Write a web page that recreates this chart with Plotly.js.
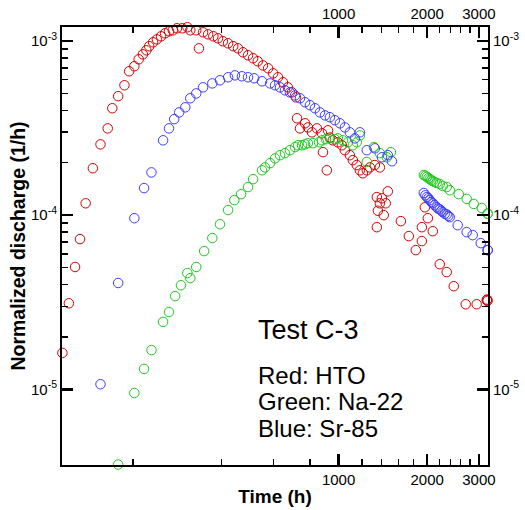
<!DOCTYPE html>
<html>
<head>
<meta charset="utf-8">
<script src="https://cdn.plot.ly/plotly-3.0.1.min.js"></script>
<style>html,body{margin:0;padding:0;background:#fff;}#chart{width:525px;height:510px;}</style>
</head>
<body>
<div id="chart"></div>
<script>
// ---- Data (time in hours, normalized discharge in 1/h) ----
const redTime = [115,121,127,132,138,146,155,164,170,178,187,194,202,209,216,222,227,234,241,249,257,265,273,282,294,306,313,328,335,346,360,375,389,404,421,438,455,473,492,512,531,553,576,599,622,647,672,694,716,
  722,739,769,786,812,844,878,885,912,920,934,955,994,1026,1050,1092,1118,1153,1181,1209,1247,1277,1328,1381,
  1349,1403,1470,1446,1381,1360,1424,1349,1628,1733,1830,1919,1965,2011,1919,2091,2208,2332,2464,2705,2948,3190,3200,3210];
const redValue = [1.62e-5,3.12e-5,5.04e-5,7.29e-5,1.17e-4,1.86e-4,2.55e-4,3.15e-4,4.11e-4,4.82e-4,5.57e-4,6.70e-4,7.16e-4,7.85e-4,8.38e-4,8.84e-4,9.33e-4,9.83e-4,1.022e-3,1.064e-3,1.107e-3,1.137e-3,1.152e-3,1.183e-3,1.183e-3,1.199e-3,1.152e-3,1.152e-3,9.07e-4,1.122e-3,1.092e-3,1.064e-3,1.036e-3,9.96e-4,9.70e-4,9.33e-4,9.07e-4,8.61e-4,8.28e-4,7.96e-4,7.65e-4,7.24e-4,6.97e-4,6.52e-4,6.19e-4,5.79e-4,5.42e-4,5.07e-4,4.75e-4,
  3.60e-4,3.15e-4,3.37e-4,3.19e-4,2.99e-4,3.15e-4,2.95e-4,2.30e-4,1.81e-4,3.07e-4,2.79e-4,2.69e-4,2.62e-4,2.52e-4,2.36e-4,2.21e-4,2.07e-4,1.94e-4,1.81e-4,1.74e-4,1.81e-4,1.88e-4,1.94e-4,1.88e-4,
  1.27e-4,1.25e-4,1.37e-4,1.17e-4,1.17e-4,1.06e-4,1.00e-4,8.53e-5,9.24e-5,7.58e-5,6.30e-5,8.53e-5,1.11e-4,9.61e-5,7.10e-5,8.09e-5,5.23e-5,4.71e-5,3.91e-5,3.08e-5,3.08e-5,3.25e-5,3.28e-5,3.22e-5];

const greenTime = [178,202,218,231,253,265,278,291,306,313,328,349,372,395,421,442,466,492,512,549,562,585,608,632,657,683,711,728,751,769,786,818,858,878,905,934,971,994,1034,1075,1118,1153,1181,1247,1318,1381,1459,1506,
  1949,1972,1996,2020,2042,2066,2091,2120,2156,2208,2260,2332,2388,2562,2726,2881,3067,3213,3213];
const greenValue = [3.70e-6,9.53e-6,1.31e-5,1.68e-5,2.44e-5,2.78e-5,3.43e-5,3.96e-5,4.65e-5,4.35e-5,5.04e-5,6.22e-5,7.39e-5,8.87e-5,1.07e-4,1.22e-4,1.32e-4,1.45e-4,1.61e-4,1.81e-4,1.88e-4,1.99e-4,2.12e-4,2.21e-4,2.27e-4,2.36e-4,2.46e-4,2.52e-4,2.52e-4,2.55e-4,2.59e-4,2.59e-4,2.62e-4,2.69e-4,2.73e-4,2.76e-4,2.73e-4,2.76e-4,2.69e-4,2.62e-4,2.52e-4,2.62e-4,2.87e-4,2.02e-4,2.46e-4,2.27e-4,2.15e-4,2.30e-4,
  1.70e-4,1.68e-4,1.66e-4,1.63e-4,1.61e-4,1.59e-4,1.57e-4,1.55e-4,1.53e-4,1.51e-4,1.47e-4,1.45e-4,1.39e-4,1.32e-4,1.24e-4,1.16e-4,1.10e-4,1.02e-4,1.02e-4];

const blueTime = [155,178,202,218,231,253,265,276,287,301,313,328,346,372,395,421,444,469,492,516,549,585,608,632,657,683,711,739,769,799,831,864,899,934,971,1010,1050,1092,1136,1181,1247,1328,1403,1470,1518,
  1949,1972,1996,2020,2042,2066,2091,2120,2156,2180,2208,2235,2260,2295,2332,2360,2388,2541,2726,2858,3043,3213,3213];
const blueValue = [1.07e-5,4.08e-5,9.61e-5,1.43e-4,1.76e-4,2.69e-4,3.15e-4,3.56e-4,3.89e-4,4.16e-4,4.69e-4,5.00e-4,5.42e-4,5.71e-4,5.95e-4,6.19e-4,6.35e-4,6.27e-4,6.19e-4,6.11e-4,5.87e-4,5.71e-4,5.57e-4,5.42e-4,5.21e-4,5.07e-4,4.87e-4,4.69e-4,4.45e-4,4.28e-4,4.11e-4,3.89e-4,3.74e-4,3.65e-4,3.51e-4,3.37e-4,3.19e-4,2.99e-4,2.76e-4,2.99e-4,2.36e-4,2.42e-4,2.15e-4,2.21e-4,2.04e-4,
  1.34e-4,1.30e-4,1.27e-4,1.25e-4,1.22e-4,1.19e-4,1.17e-4,1.14e-4,1.11e-4,1.09e-4,1.08e-4,1.06e-4,1.04e-4,1.02e-4,1.01e-4,9.9e-5,9.74e-5,8.76e-5,7.99e-5,7.68e-5,6.91e-5,6.30e-5,6.30e-5];

// ---- Ticks ----
const xTickVals = [1000, 2000, 3000];
const xTickText = ['1000', '2000', '3000'];
const xMinorVals = [200, 400, 600, 800, 1200, 1400, 1600, 1800, 2200, 2400, 2600, 2800];
const yTickVals = [1e-5, 1e-4, 1e-3];
const yTickText = ['10<sup>-5</sup>', '10<sup>-4</sup>', '10<sup>-3</sup>'];
const yMinorVals = [2e-5,3e-5,4e-5,5e-5,6e-5,7e-5,8e-5,9e-5,2e-4,3e-4,4e-4,5e-4,6e-4,7e-4,8e-4,9e-4];

const chartTitle = 'Test C-3';
const legendLines = ['Red: HTO', 'Green: Na-22', 'Blue: Sr-85'];
const xTitle = 'Time (h)';
const yTitle = 'Normalized discharge (1/h)';

// ---- Styles ----
const FONT = 'Liberation Sans, Arial, Helvetica, sans-serif';
const RED = '#d40000', GREEN = '#1ec81e', BLUE = '#3c3cff';
const xRange = [2.0594, 3.508];
const yRange = [-5.4343, -2.9197];

function mk(x, y, color, xa, ya) {
  return {
    x: x, y: y, type: 'scatter', mode: 'markers', xaxis: xa, yaxis: ya,
    cliponaxis: false, hoverinfo: 'skip',
    marker: {symbol: 'circle-open', size: 9.5, color: color, line: {color: color, width: 1}}
  };
}

const data = [
  mk(redTime, redValue, RED, 'x', 'y'),
  mk(greenTime, greenValue, GREEN, 'x', 'y'),
  mk(blueTime, blueValue, BLUE, 'x2', 'y2')
];

function axisBase(range, tv, tt, minorVals) {
  return {
    type: 'log', range: range, autorange: false,
    showline: true, linecolor: 'black', linewidth: 2,
    showgrid: false, zeroline: false,
    ticks: 'inside', ticklen: 11, tickwidth: 2.5, tickcolor: 'black',
    tickmode: 'array', tickvals: tv, ticktext: tt,
    tickfont: {family: FONT, size: 15, color: 'black'},
    minor: {tickmode: 'array', tickvals: minorVals, ticks: 'inside', ticklen: 6, tickwidth: 1.5, tickcolor: 'black', showgrid: false},
    automargin: false, fixedrange: true
  };
}

const layout = {
  width: 525, height: 510,
  margin: {l: 62, r: 37, t: 27, b: 45, pad: 0},
  paper_bgcolor: 'white', plot_bgcolor: 'white',
  showlegend: false,
  xaxis: Object.assign(axisBase(xRange, xTickVals, xTickText, xMinorVals), {
    side: 'bottom', anchor: 'y',
    title: {text: xTitle, font: {family: FONT, size: 19, color: 'black', weight: 'bold'}, standoff: 3}
  }),
  xaxis2: Object.assign(axisBase(xRange, xTickVals, xTickText, xMinorVals), {
    side: 'top', overlaying: 'x', anchor: 'y'
  }),
  yaxis: Object.assign(axisBase(yRange, yTickVals, yTickText, yMinorVals), {
    side: 'left', anchor: 'x',
    title: {text: yTitle, font: {family: FONT, size: 19.5, color: 'black', weight: 'bold'}, standoff: 0}
  }),
  yaxis2: Object.assign(axisBase(yRange, yTickVals, yTickText, yMinorVals), {
    side: 'right', overlaying: 'y', anchor: 'x'
  }),
  annotations: [
    {text: chartTitle, xref: 'paper', yref: 'paper', x: 0.4555, y: 0.308, xanchor: 'left', yanchor: 'middle', showarrow: false, font: {family: FONT, size: 27, color: 'black'}},
    {text: legendLines[0], xref: 'paper', yref: 'paper', x: 0.4555, y: 0.2053, xanchor: 'left', yanchor: 'middle', showarrow: false, font: {family: FONT, size: 24, color: 'black'}},
    {text: legendLines[1], xref: 'paper', yref: 'paper', x: 0.4555, y: 0.1444, xanchor: 'left', yanchor: 'middle', showarrow: false, font: {family: FONT, size: 24, color: 'black'}},
    {text: legendLines[2], xref: 'paper', yref: 'paper', x: 0.4555, y: 0.0844, xanchor: 'left', yanchor: 'middle', showarrow: false, font: {family: FONT, size: 24, color: 'black'}}
  ]
};

Plotly.newPlot('chart', data, layout, {staticPlot: true, displayModeBar: false});
</script>
</body>
</html>
